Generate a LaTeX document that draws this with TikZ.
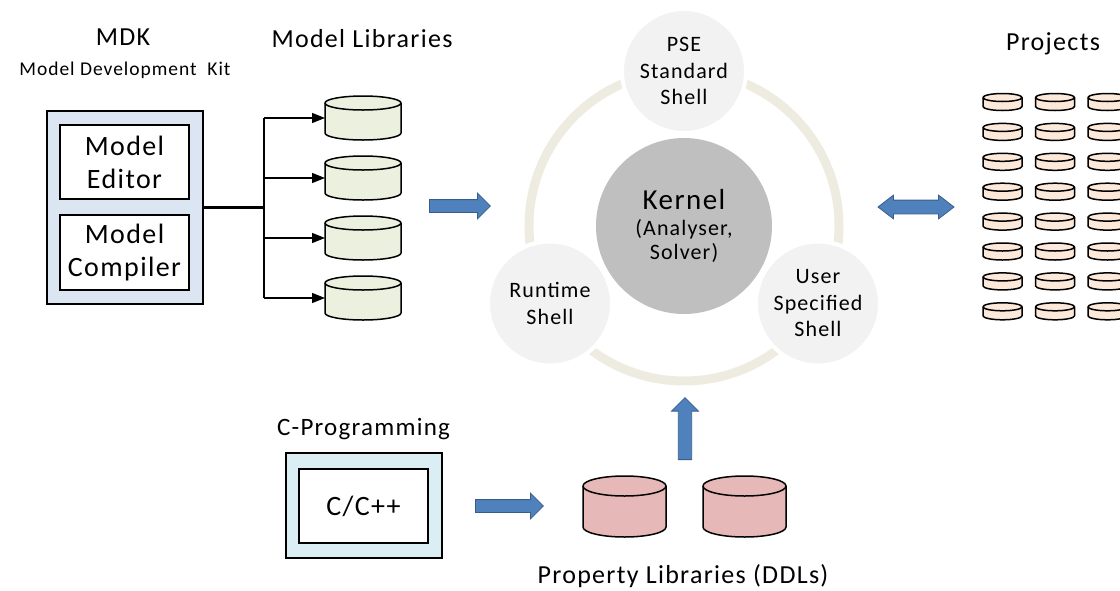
\documentclass[tikz,border=0pt]{standalone}
\usepackage{fontspec}
\setmainfont{Carlito}[LetterSpace=5]
\usetikzlibrary{shapes.arrows, positioning, arrows.meta}

\definecolor{mdkfill}{HTML}{DCE6F2}
\definecolor{cfill}{HTML}{DAEEF3}
\definecolor{libfill}{HTML}{EBF1DE}
\definecolor{propfill}{HTML}{E6B9B8}
\definecolor{projfill}{HTML}{FDE9D9}
\definecolor{arrowblue}{HTML}{4F81BD}
\definecolor{arrowedge}{HTML}{385D8A}
\definecolor{ringcol}{HTML}{EEECE1}
\definecolor{shellfill}{HTML}{F2F2F2}
\definecolor{kernelfill}{HTML}{BFBFBF}

% drum outline round a named node: node, x radius, y radius, fill
\newcommand{\drum}[4]{%
  \draw[drum line, fill=#4] ([yshift=-#3]#1.north west) -- ([yshift=#3]#1.south west)
      arc[start angle=180, end angle=360, x radius=#2, y radius=#3]
      -- ([yshift=-#3]#1.north east)
      arc[start angle=0, end angle=180, x radius=#2, y radius=#3] -- cycle;
  \draw[drum line] ([yshift=-#3]#1.north west) arc[start angle=180, end angle=360, x radius=#2, y radius=#3];
}

\begin{document}
\begin{tikzpicture}[x=1pt, y=-1pt, >={Triangle[length=13pt, width=10pt]}, node distance=60pt,
    title/.style={anchor=base, font=\fontsize{26}{30}\selectfont},
    outer box/.style={draw, line width=1.8pt, inner sep=0pt, minimum width=156pt},
    inner box/.style={draw, fill=white, line width=1.8pt, inner sep=0pt, minimum width=129pt, align=center, font=\fontsize{28}{33}\selectfont},
    db/.style={rectangle, inner sep=0pt, outer sep=0pt},
    drum line/.style={line width=1.5pt, line join=round},
    shell node/.style={circle, fill=shellfill, draw=white, line width=4pt, minimum size=124pt, inner sep=0pt, align=center, font=\fontsize{22}{26.5}\selectfont},
    block arrow/.style={single arrow, draw=arrowedge, fill=arrowblue, line width=0.8pt, inner xsep=0pt, inner ysep=6pt, single arrow head extend=6.5pt, anchor=tail},
    both arrow/.style={double arrow, draw=arrowedge, fill=arrowblue, line width=0.8pt, inner xsep=0pt, inner ysep=6.5pt, double arrow head extend=5pt, double arrow tip angle=75}]

    \useasboundingbox (0,0) rectangle (1120,590);

    % MDK block
    \node[title] (mdktitle) at (123,45) {MDK};
    \node[anchor=base, font=\fontsize{19.5}{22}\selectfont] (mdksub) at (125,75) {Model Development~~Kit};
    \node[outer box, fill=mdkfill, minimum height=193pt] (mdk) at (125,207.5) {};
    \node[inner box, minimum height=74pt] (editor) at (124.5,162) {Model\\Editor};
    \node[inner box, minimum height=75pt] (compiler) [below=14pt of editor] {Model\\Compiler};

    % model libraries
    \node[title] (libtitle) at (362,47) {Model Libraries};
    \node[db, minimum width=76pt, minimum height=44pt] (lib1) at (363,118) {};
    \node[db, minimum width=76pt, minimum height=44pt] (lib2) [below of = lib1] {};
    \node[db, minimum width=76pt, minimum height=44pt] (lib3) [below of = lib2] {};
    \node[db, minimum width=76pt, minimum height=44pt] (lib4) [below of = lib3] {};
    \foreach \n in {lib1,lib2,lib3,lib4}
        \drum{\n}{38pt}{7pt}{libfill};

    \coordinate (split) at (264,207.5);
    \draw[line width=2.6pt] (mdk) -- (split);
    \draw[line width=1.2pt] (split |- lib1) -- (split |- lib4);
    \foreach \i in {1,...,4}
        \draw[->, line width=1.2pt] (split |- lib\i) -- (lib\i);

    \node[block arrow, minimum height=61pt, minimum width=25pt] (libarrow) at (429,206) {};

    % kernel and shells
    \node[circle, fill=kernelfill, minimum size=176pt, inner sep=0pt, align=center, font=\fontsize{22}{24}\selectfont] (kernel) at (684,226)
        {{\fontsize{29}{33}\selectfont Kernel}\\[2pt](Analyser,\\Solver)};
    \draw[ringcol, line width=9pt] (kernel.center) circle[radius=155];
    \node[shell node] (pse) at (684,71) {PSE\\Standard\\Shell};
    \node[shell node] (runtime) at (550,303.5) {Runtime\\Shell};
    \node[shell node] (user) at (818,303.5) {User\\Specified\\Shell};

    % projects
    \node[both arrow, minimum height=76pt, minimum width=23pt] (projarrow) at (916,207) {};
    \node[title] (projtitle) at (1053,50) {Projects};
    \foreach \r in {0,...,7}
        \foreach \c in {0,1,2} {
            \node[db, minimum width=39pt, minimum height=17pt] (proj-\r-\c) at (1002.5+52.5*\c, 102+29.9*\r) {};
            \drum{proj-\r-\c}{19.5pt}{4pt}{projfill}
        }

    % C programming and property libraries
    \node[title, font=\fontsize{25}{29}\selectfont] (ctitle) at (363.5,435) {C-Programming};
    \node[outer box, fill=cfill, minimum height=105pt] (cbox) at (364,505.5) {};
    \node[inner box, minimum height=74pt] (cpp) at (363.5,506) {C/C++};
    \node[block arrow, minimum height=68pt, minimum width=25pt] (cpparrow) at (475,506) {};

    \node[db, minimum width=83pt, minimum height=61pt] (prop1) at (624.5,506.5) {};
    \node[db, minimum width=83pt, minimum height=61pt] (prop2) [right=37pt of prop1] {};
    \drum{prop1}{41.5pt}{10pt}{propfill}
    \drum{prop2}{41.5pt}{10pt}{propfill}
    \node[title] (proptitle) at (683,583) {Property Libraries (DDLs)};
    \node[block arrow, minimum height=62pt, minimum width=27pt, rotate=90] (proparrow) at (685,460) {};
\end{tikzpicture}
\end{document}
